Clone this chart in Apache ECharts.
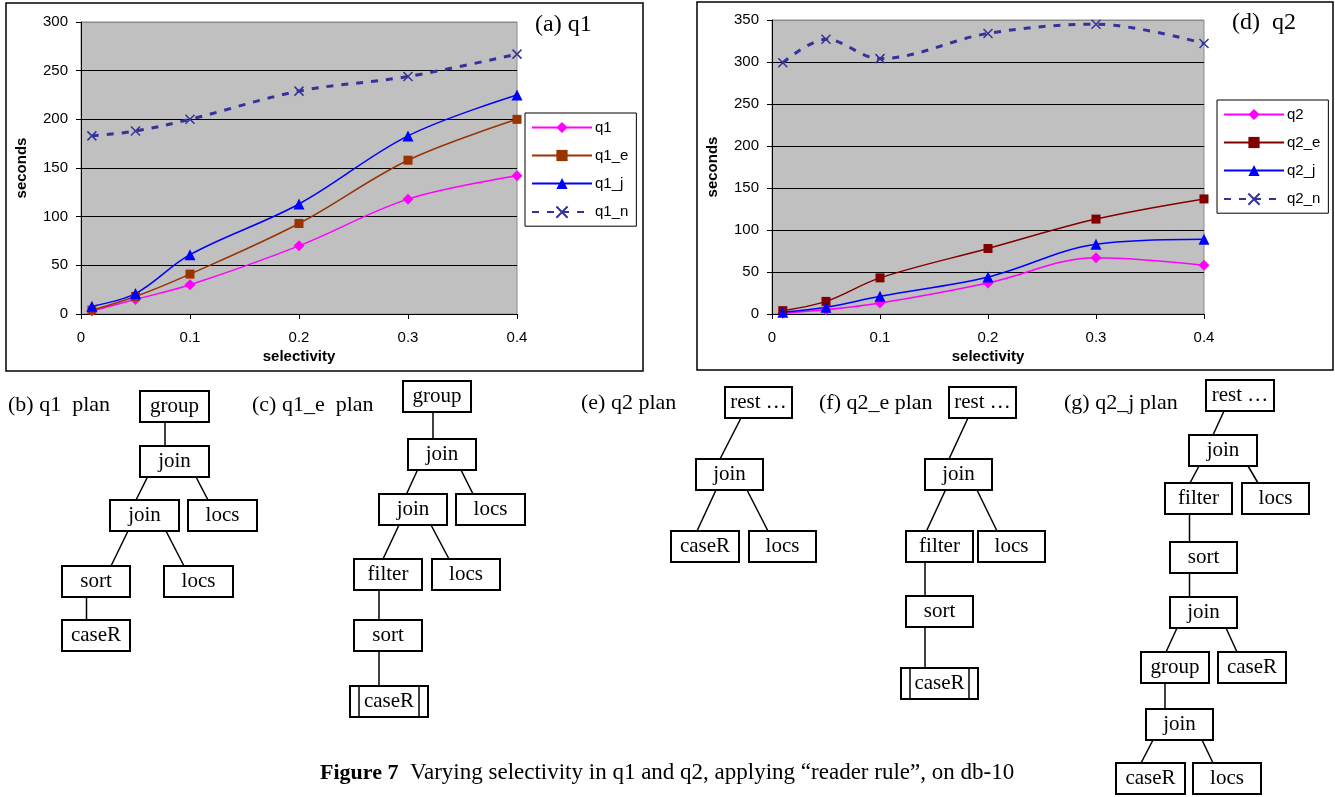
<!DOCTYPE html>
<html>
<head>
<meta charset="utf-8">
<script src="https://cdn.jsdelivr.net/npm/echarts@6/dist/echarts.min.js"></script>
<style>
  html, body { margin: 0; padding: 0; background: #fff; }
  #chart { width: 1335px; height: 797px; }
</style>
</head>
<body>
<div id="chart"></div>
<script>
// selectivity values on the x axis
const selectivity = [0.01, 0.05, 0.1, 0.2, 0.3, 0.4]

// (a) q1, seconds
const q1 = [3, 15, 30, 70, 118, 142]
const q1E = [4, 18, 41, 93, 158, 200]
const q1J = [8, 21, 61, 113, 183, 225]
const q1N = [183, 188, 200, 229, 244, 267]

// (d) q2, seconds
const q2 = [1, 5, 13, 37, 67, 58]
const q2E = [4, 15, 43, 78, 113, 137]
const q2J = [2, 8, 21, 44, 83, 89]
const q2N = [299, 327, 304, 334, 345, 322]

const q1Names = ['q1', 'q1_e', 'q1_j', 'q1_n']
const q2Names = ['q2', 'q2_e', 'q2_j', 'q2_n']

// plan trees: titles, node labels, parent-child edges, stored leaves
const planTitles = ['(b) q1  plan', '(c) q1_e  plan', '(e) q2 plan', '(f) q2_e plan', '(g) q2_j plan']
const planNodes = [
  ['group', 'join', 'join', 'locs', 'sort', 'locs', 'caseR'],
  ['group', 'join', 'join', 'locs', 'filter', 'locs', 'sort', 'caseR'],
  ['rest …', 'join', 'caseR', 'locs'],
  ['rest …', 'join', 'filter', 'locs', 'sort', 'caseR'],
  ['rest …', 'join', 'filter', 'locs', 'sort', 'join', 'group', 'caseR', 'join', 'caseR', 'locs']
]
const planEdges = [
  [[0, 1], [1, 2], [1, 3], [2, 4], [2, 5], [4, 6]],
  [[0, 1], [1, 2], [1, 3], [2, 4], [2, 5], [4, 6], [6, 7]],
  [[0, 1], [1, 2], [1, 3]],
  [[0, 1], [1, 2], [1, 3], [2, 4], [4, 5]],
  [[0, 1], [1, 2], [1, 3], [2, 4], [4, 5], [5, 6], [5, 7], [6, 8], [8, 9], [8, 10]]
]
const planStored = [[], [7], [], [5], []]

// layout of the diagrams (pixels)
const titlePos = [[8, 405], [252, 405], [581, 403], [819, 403], [1064, 403]]
const boxPos = [
  [[140, 391, 69], [140, 446, 69], [110, 500, 69], [188, 500, 69], [62, 566, 68], [164, 566, 69], [62, 620, 68]],
  [[403, 381, 68], [408, 439, 68], [379, 494, 68], [456, 494, 69], [354, 559, 68], [432, 559, 68], [354, 620, 68], [350, 686, 78]],
  [[725, 387, 67], [696, 459, 67], [671, 531, 68], [749, 531, 67]],
  [[949, 387, 67], [925, 459, 67], [906, 531, 67], [978, 531, 67], [906, 596, 67], [901, 668, 77]],
  [[1206, 380, 68], [1189, 435, 68], [1165, 483, 67], [1242, 483, 67], [1170, 542, 67], [1170, 597, 67],
    [1141, 652, 68], [1218, 652, 68], [1146, 709, 67], [1116, 763, 69], [1193, 763, 68]]
]
const edgePos = [
  [[165, 422, 165, 446], [147.5, 477, 136, 500], [196, 477, 208, 500], [128, 531, 111, 566], [166, 531, 184, 566], [86.5, 597, 86.5, 620]],
  [[433, 411, 433, 439], [417.5, 470, 406.5, 494], [461, 470, 473, 494], [399, 525, 383, 559], [431, 525, 449, 559], [379, 590, 379, 620], [379, 651, 379, 686]],
  [[741, 418, 720, 459], [716, 490, 697, 531], [747, 490, 768, 531]],
  [[968, 418, 949, 459], [945.5, 490, 926.5, 531], [977, 490, 997, 531], [925, 562, 925, 596], [925, 627, 925, 668]],
  [[1224, 411, 1213, 435], [1199, 466, 1190, 483], [1248, 466, 1258, 483], [1189.5, 514, 1189.5, 542], [1189.5, 573, 1189.5, 597],
    [1177, 628, 1166, 652], [1226, 628, 1237, 652], [1165, 683, 1165, 709], [1153, 740, 1141, 763], [1202, 740, 1213, 763]]
]
const BOX_H = 31

const SANS = '"Liberation Sans", Arial, sans-serif'
const SERIF = '"Liberation Serif", "Times New Roman", serif'
const crossPath = 'path://M0,0L10,10M0,10L10,0'

function pairs (ys) {
  return selectivity.map((x, i) => [x, ys[i]])
}

function lineSeries (name, ys, idx, color, symbol, size, dashed) {
  return {
    name: name,
    type: 'line',
    xAxisIndex: idx,
    yAxisIndex: idx,
    smooth: 0.35,
    data: pairs(ys),
    symbol: symbol,
    symbolSize: size,
    lineStyle: dashed
      ? { color: color, width: 3, type: [7, 8] }
      : { color: color, width: 1.5 },
    itemStyle: symbol === crossPath
      ? { color: 'none', borderColor: color, borderWidth: 1.5 }
      : { color: color },
    emphasis: { disabled: true },
    z: 3
  }
}

function xAxisFor (idx) {
  return {
    type: 'value',
    gridIndex: idx,
    min: 0,
    max: 0.4,
    interval: 0.1,
    name: 'selectivity',
    nameLocation: 'middle',
    nameGap: 35,
    nameTextStyle: { fontFamily: SANS, fontSize: 15, fontWeight: 'bold', color: '#000' },
    axisLine: { show: true, lineStyle: { color: '#000', width: 1 } },
    axisTick: { show: true, length: 5, lineStyle: { color: '#000' } },
    axisLabel: { fontFamily: SANS, fontSize: 15, color: '#000', margin: 16 },
    splitLine: { show: false }
  }
}

function yAxisFor (idx, max) {
  const n = max / 50 + 1
  const colors = []
  for (let i = 0; i < n; i++) colors.push(i === n - 1 ? '#8a8a8a' : '#000')
  return {
    type: 'value',
    gridIndex: idx,
    min: 0,
    max: max,
    interval: 50,
    name: 'seconds',
    nameLocation: 'middle',
    nameGap: 52,
    nameTextStyle: { fontFamily: SANS, fontSize: 15, fontWeight: 'bold', color: '#000' },
    axisLine: { show: true, lineStyle: { color: '#000', width: 1 } },
    axisTick: { show: true, length: 5, lineStyle: { color: '#000' } },
    axisLabel: { fontFamily: SANS, fontSize: 15, color: '#000', margin: 13 },
    splitLine: { show: true, lineStyle: { color: colors, width: 1 } }
  }
}

function legendFor (names, left, top) {
  return {
    data: names,
    orient: 'vertical',
    left: left,
    top: top,
    itemWidth: 60,
    itemHeight: 14,
    itemGap: 13,
    padding: [7, 8, 6, 6],
    borderColor: '#000',
    borderWidth: 1,
    backgroundColor: '#fff',
    selectedMode: false,
    textStyle: { fontFamily: SANS, fontSize: 15, color: '#000', padding: [0, 0, 0, -2] }
  }
}

// diagram graphics
const graphics = []
graphics.push({ type: 'rect', shape: { x: 6, y: 3, width: 637, height: 368 }, style: { fill: 'none', stroke: '#000', lineWidth: 1.5 }, z: 0 })
graphics.push({ type: 'rect', shape: { x: 697, y: 2, width: 636, height: 368 }, style: { fill: 'none', stroke: '#000', lineWidth: 1.5 }, z: 0 })
graphics.push({ type: 'text', style: { text: '(a) q1', x: 535, y: 25, font: '24px ' + SERIF, fill: '#000', textVerticalAlign: 'middle' }, z: 10 })
graphics.push({ type: 'text', style: { text: '(d)  q2', x: 1232, y: 23, font: '24px ' + SERIF, fill: '#000', textVerticalAlign: 'middle' }, z: 10 })

planTitles.forEach((t, p) => {
  graphics.push({ type: 'text', style: { text: t, x: titlePos[p][0], y: titlePos[p][1], font: '22px ' + SERIF, fill: '#000', textVerticalAlign: 'middle' }, z: 10 })
  planEdges[p].forEach((e, k) => {
    const c = edgePos[p][k]
    graphics.push({ type: 'line', shape: { x1: c[0], y1: c[1], x2: c[2], y2: c[3] }, style: { stroke: '#000', lineWidth: 1.5 }, z: 9 })
  })
  planNodes[p].forEach((label, k) => {
    const b = boxPos[p][k]
    graphics.push({ type: 'rect', shape: { x: b[0], y: b[1], width: b[2], height: BOX_H }, style: { fill: '#fff', stroke: '#000', lineWidth: 2 }, z: 10 })
    if (planStored[p].indexOf(k) >= 0) {
      graphics.push({ type: 'line', shape: { x1: b[0] + 9, y1: b[1], x2: b[0] + 9, y2: b[1] + BOX_H }, style: { stroke: '#000', lineWidth: 1.5 }, z: 11 })
      graphics.push({ type: 'line', shape: { x1: b[0] + b[2] - 9, y1: b[1], x2: b[0] + b[2] - 9, y2: b[1] + BOX_H }, style: { stroke: '#000', lineWidth: 1.5 }, z: 11 })
    }
    graphics.push({ type: 'text', style: { text: label, x: b[0] + b[2] / 2, y: b[1] + BOX_H / 2, font: '21px ' + SERIF, fill: '#000', textAlign: 'center', textVerticalAlign: 'middle' }, z: 12 })
  })
})

graphics.push({
  type: 'text',
  style: {
    text: '{b|Figure 7}  Varying selectivity in q1 and q2, applying \u201creader rule\u201d, on db-10',
    x: 320,
    y: 773,
    fontFamily: SERIF,
    fontSize: 23,
    fill: '#000',
    textVerticalAlign: 'middle',
    rich: { b: { fontFamily: SERIF, fontSize: 22, fontWeight: 'bold', fill: '#000' } }
  },
  z: 10
})

const option = {
  backgroundColor: '#fff',
  animation: false,
  grid: [
    { left: 81, top: 22, width: 436, height: 292, show: true, backgroundColor: '#c0c0c0', borderColor: '#8a8a8a', borderWidth: 1 },
    { left: 772, top: 20, width: 432, height: 294, show: true, backgroundColor: '#c0c0c0', borderColor: '#8a8a8a', borderWidth: 1 }
  ],
  xAxis: [xAxisFor(0), xAxisFor(1)],
  yAxis: [yAxisFor(0, 300), yAxisFor(1, 350)],
  legend: [legendFor(q1Names, 525, 113), legendFor(q2Names, 1217, 100)],
  series: [
    lineSeries('q1', q1, 0, '#ff00ff', 'diamond', 11, false),
    lineSeries('q1_e', q1E, 0, '#993300', 'rect', 9, false),
    lineSeries('q1_j', q1J, 0, '#0000ff', 'triangle', 11, false),
    lineSeries('q1_n', q1N, 0, '#333399', crossPath, 9, true),
    lineSeries('q2', q2, 1, '#ff00ff', 'diamond', 11, false),
    lineSeries('q2_e', q2E, 1, '#800000', 'rect', 9, false),
    lineSeries('q2_j', q2J, 1, '#0000ff', 'triangle', 11, false),
    lineSeries('q2_n', q2N, 1, '#333399', crossPath, 9, true)
  ],
  graphic: { elements: graphics }
}

const myChart = echarts.init(document.getElementById('chart'), null, { renderer: 'canvas' })
myChart.setOption(option)
</script>
</body>
</html>
